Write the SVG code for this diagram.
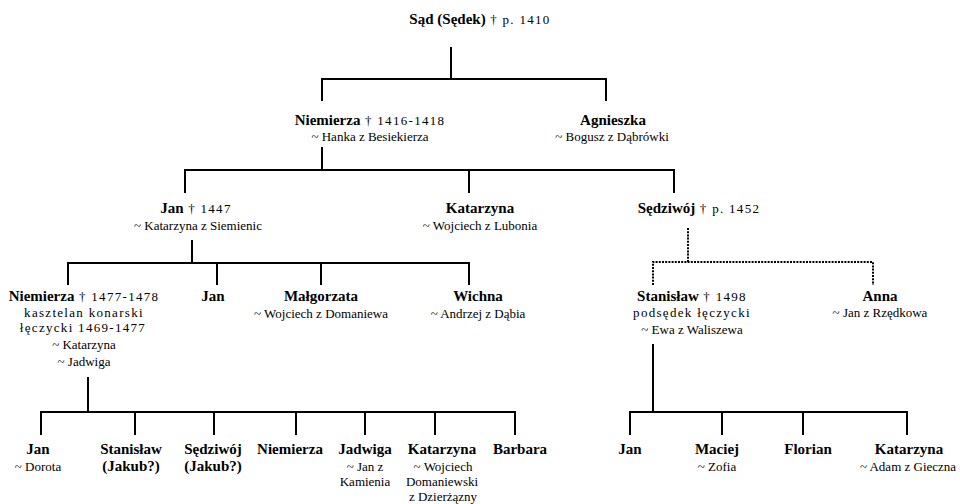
<svg xmlns="http://www.w3.org/2000/svg" width="960" height="504" viewBox="0 0 960 504">
<style>
text{font-family:"Liberation Serif","Times New Roman",serif;fill:#000;text-anchor:middle;font-size:13px}
.b{font-weight:bold;font-size:15px}
.d{font-weight:normal;font-size:13px;letter-spacing:1.3px}
.ls{letter-spacing:1.3px}
.c{fill:none;stroke:#000;stroke-width:2}
.dot{fill:none;stroke:#000;stroke-width:2;stroke-dasharray:2 1.2}
</style>
<rect width="960" height="504" fill="#fff"/>
<g id="connectors">
<path class="c" d="M451 47V79M322 101V79H606V101"/>
<path class="c" d="M322 147V170M185 193V170H674V193M469 170V193"/>
<path class="c" d="M192 240V263M68 285V263H469V285M217 263V285M321 263V285"/>
<path class="dot" d="M688 228V262M653 285V262H873V285"/>
<path class="c" d="M88 377V412M41 435V412H515V435M135 412V435M214 412V435M296 412V435M365 412V435M435 412V435"/>
<path class="c" d="M653 344V412M630 435V412H907V435M722 412V435M803 412V435"/>
</g>
<g id="sad"><text x="480" y="24"><tspan class="b">Sąd (Sędek)</tspan><tspan class="d"> † p. 1410</tspan></text></g>
<g id="niemierza1"><text x="370" y="125"><tspan class="b">Niemierza</tspan><tspan class="d"> † 1416-1418</tspan></text><text x="370" y="141">~ Hanka z Besiekierza</text></g>
<g id="agnieszka"><text class="b" x="613" y="125">Agnieszka</text><text x="612" y="141">~ Bogusz z Dąbrówki</text></g>
<g id="jan1"><text x="196" y="213"><tspan class="b">Jan</tspan><tspan class="d"> † 1447</tspan></text><text x="198" y="230">~ Katarzyna z Siemienic</text></g>
<g id="katarzyna1"><text class="b" x="480" y="213">Katarzyna</text><text x="480" y="230">~ Wojciech z Lubonia</text></g>
<g id="sedziwoj1"><text x="699" y="213"><tspan class="b">Sędziwój</tspan><tspan class="d"> † p. 1452</tspan></text></g>
<g id="niemierza2"><text x="84" y="301"><tspan class="b">Niemierza</tspan><tspan class="d"> † 1477-1478</tspan></text><text class="ls" x="84" y="317">kasztelan konarski</text><text class="ls" x="83" y="332">łęczycki 1469-1477</text><text x="84" y="349">~ Katarzyna</text><text x="84" y="366">~ Jadwiga</text></g>
<g id="jan2"><text class="b" x="213" y="301">Jan</text></g>
<g id="malgorzata"><text class="b" x="321" y="301">Małgorzata</text><text x="321" y="318">~ Wojciech z Domaniewa</text></g>
<g id="wichna"><text class="b" x="478" y="301">Wichna</text><text x="478" y="318">~ Andrzej z Dąbia</text></g>
<g id="stanislaw1"><text x="692" y="301"><tspan class="b">Stanisław</tspan><tspan class="d"> † 1498</tspan></text><text class="ls" x="692" y="317">podsędek łęczycki</text><text x="692" y="334">~ Ewa z Waliszewa</text></g>
<g id="anna"><text class="b" x="880" y="301">Anna</text><text x="880" y="317">~ Jan z Rzędkowa</text></g>
<g id="jan3"><text class="b" x="38" y="454">Jan</text><text x="38" y="471">~ Dorota</text></g>
<g id="stanislaw2"><text class="b" x="131" y="454">Stanisław</text><text class="b" x="131" y="471">(Jakub?)</text></g>
<g id="sedziwoj2"><text class="b" x="213" y="454">Sędziwój</text><text class="b" x="213" y="471">(Jakub?)</text></g>
<g id="niemierza3"><text class="b" x="290" y="454">Niemierza</text></g>
<g id="jadwiga"><text class="b" x="365" y="454">Jadwiga</text><text x="365" y="471">~ Jan z</text><text x="365" y="486">Kamienia</text></g>
<g id="katarzyna2"><text class="b" x="442" y="454">Katarzyna</text><text x="443" y="471">~ Wojciech</text><text x="442" y="486">Domaniewski</text><text x="443" y="501">z Dzierżązny</text></g>
<g id="barbara"><text class="b" x="520" y="454">Barbara</text></g>
<g id="jan4"><text class="b" x="630" y="454">Jan</text></g>
<g id="maciej"><text class="b" x="717" y="454">Maciej</text><text x="717" y="471">~ Zofia</text></g>
<g id="florian"><text class="b" x="808" y="454">Florian</text></g>
<g id="katarzyna3"><text class="b" x="909" y="454">Katarzyna</text><text x="908" y="471">~ Adam z Gieczna</text></g>
</svg>
